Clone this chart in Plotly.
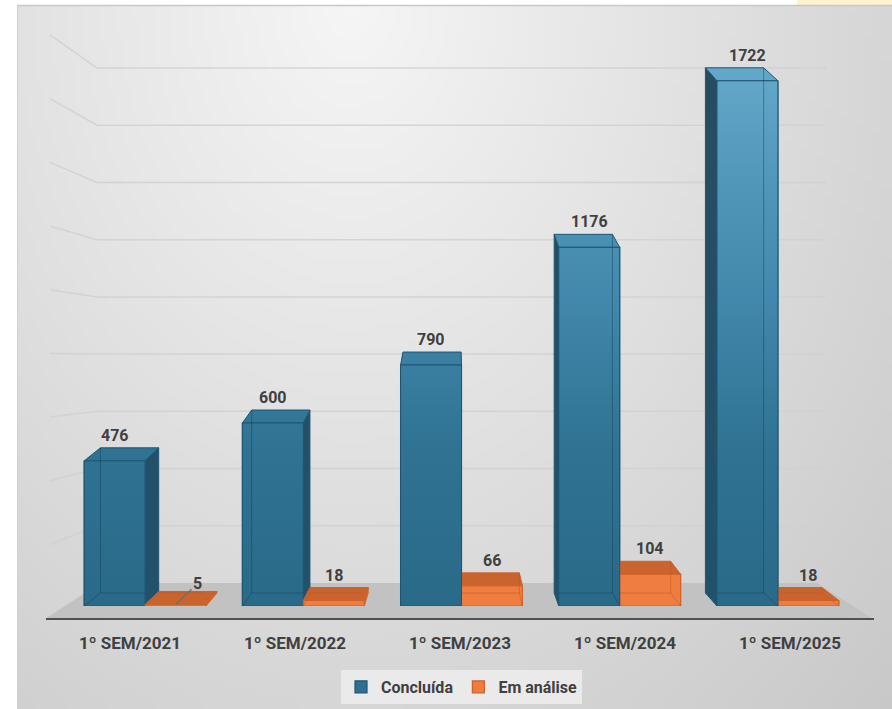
import base64
import struct
import zlib

import numpy as np
import plotly.graph_objects as go

# ---------------- data ----------------
categories = ["1º SEM/2021", "1º SEM/2022", "1º SEM/2023", "1º SEM/2024", "1º SEM/2025"]
concluida = [476, 600, 790, 1176, 1722]
em_analise = [5, 18, 66, 104, 18]
series_names = ["Concluída", "Em análise"]

# ---------------- geometry / style ----------------
W, H = 892, 709
ML, MR, MT, MB = 66, 35, 50, 103
PW = W - ML - MR
PH = H - MT - MB
YMAX = 1823
N = len(categories)
XR = (-0.5, N - 0.5)
BARGAP = 0.23
BW = (1 - BARGAP) / 2

TEXT = "#404040"
FONT = "Roboto"


def px2x(px):
    return (px - ML) / PW * (XR[1] - XR[0]) + XR[0]


def PX(px):
    return (px - ML) / PW


def PY(py):
    return (H - MB - py) / PH


DY = 13 * YMAX / PH          # depth of the bars in y units
VPX = px2x(454)              # horizontal vanishing point
S = 0.956                    # depth shrink

# ---------------- background gradient image ----------------
gw, gh = 112, 89
xs = (np.arange(gw) + 0.5) / gw * W
ys = (np.arange(gh) + 0.5) / gh * H
XX, YY = np.meshgrid(xs, ys)
r = np.sqrt(((XX - 350) / 540) ** 2 + (YY / 709) ** 2)
val = np.clip(246 - 32 * r, 0, 255).astype(np.uint8)
rgb = np.stack([val, val, val], axis=-1)
raw = b"".join(b"\x00" + rgb[i].tobytes() for i in range(gh))


def chunk(tag, data):
    c = struct.pack(">I", len(data)) + tag + data
    return c + struct.pack(">I", zlib.crc32(tag + data) & 0xFFFFFFFF)


png = (b"\x89PNG\r\n\x1a\n" + chunk(b"IHDR", struct.pack(">IIBBBBB", gw, gh, 8, 2, 0, 0, 0))
       + chunk(b"IDAT", zlib.compress(raw, 9)) + chunk(b"IEND", b""))
bg_uri = "data:image/png;base64," + base64.b64encode(png).decode()

# ---------------- 3D faces ----------------
idx = list(range(N))


def faces(x0, x1, v):
    b0 = VPX + S * (x0 - VPX)
    b1 = VPX + S * (x1 - VPX)
    front = [(x0, 0), (x1, 0), (x1, v), (x0, v)]
    top = [(x0, v), (x1, v), (b1, v + DY), (b0, v + DY)]
    side = None
    hidden = []
    if b1 > x1:
        side = [(x1, 0), (b1, DY), (b1, v + DY), (x1, v)]
        hidden = [[(x0, 0), (b0, DY), (b0, v + DY)], [(b0, DY), (x1, DY)]]
    elif b0 < x0:
        side = [(x0, 0), (b0, DY), (b0, v + DY), (x0, v)]
        hidden = [[(x1, 0), (b1, DY), (b1, v + DY)], [(x0, DY), (b1, DY)]]
    return front, top, side, hidden


def poly_xy(polys):
    xs_, ys_ = [], []
    for p in polys:
        for (a, b) in p + [p[0]]:
            xs_.append(a)
            ys_.append(b)
        xs_.append(None)
        ys_.append(None)
    return xs_, ys_


def line_xy(lines):
    xs_, ys_ = [], []
    for ln in lines:
        for (a, b) in ln:
            xs_.append(a)
            ys_.append(b)
        xs_.append(None)
        ys_.append(None)
    return xs_, ys_


blue_front_cs = [[0, "#2a6a89"], [0.28, "#2f7292"], [0.55, "#4288ac"],
                 [0.75, "#5096b9"], [0.95, "#62a7c8"], [1, "#66aacb"]]
blue_side_cs = [[0, "#21526b"], [1, "#284c60"]]
blue_top_cs = blue_front_cs
orange_front_cs = [[0, "#ef7d3f"], [1, "#ef7d3f"]]
orange_side_cs = [[0, "#dd6d33"], [1, "#dd6d33"]]
orange_top_cs = [[0, "#c9642e"], [1, "#c9642e"]]

series = [
    dict(vals=concluida, off=-BW, edge="#1d5673", hid="rgba(20,60,85,0.45)",
         cs={"side": blue_side_cs, "top": blue_top_cs, "front": blue_front_cs}),
    dict(vals=em_analise, off=0.0, edge="#cf6127", hid="rgba(190,85,35,0.5)",
         cs={"side": orange_side_cs, "top": orange_top_cs, "front": orange_front_cs}),
]

fig = go.Figure()

# legend-bearing bar traces (covered by the 3D faces)
bar_colors = [("#2e7090", "#1d5673"), ("#ef7d3f", "#cf6127")]
for name, s, (fc, lc) in zip(series_names, series, bar_colors):
    fig.add_trace(go.Bar(x=idx, y=s["vals"], name=name,
                         marker=dict(color=fc, line=dict(color=lc, width=1.2)),
                         hoverinfo="skip"))

# draw order: left of vanishing point -> blue then orange; right -> orange then blue
left_cats = [i for i in idx if i < VPX]
right_cats = [i for i in idx if i >= VPX]
order = [(0, left_cats), (1, right_cats), (1, left_cats), (0, right_cats)]

for si, cats in order:
    s = series[si]
    groups = {"side": [], "top": [], "front": []}
    hidden_lines = []
    for i in cats:
        x0 = i + s["off"]
        x1 = x0 + BW
        fr, tp, sd, hd = faces(x0, x1, s["vals"][i])
        groups["front"].append(fr)
        groups["top"].append(tp)
        if sd:
            groups["side"].append(sd)
        hidden_lines += hd
    for key in ["side", "top", "front"]:
        if not groups[key]:
            continue
        gx, gy = poly_xy(groups[key])
        fig.add_trace(go.Scatter(
            x=gx, y=gy, mode="lines", fill="toself",
            line=dict(color=s["edge"], width=1),
            fillgradient=dict(type="vertical", colorscale=s["cs"][key], start=0, stop=YMAX),
            showlegend=False, hoverinfo="skip"))
    if hidden_lines:
        hx, hy = line_xy(hidden_lines)
        fig.add_trace(go.Scatter(x=hx, y=hy, mode="lines",
                                 line=dict(color=s["hid"], width=1),
                                 showlegend=False, hoverinfo="skip"))

# ---------------- data labels ----------------
annotations = []
for s in series:
    for i, v in enumerate(s["vals"]):
        xc = i + s["off"] + BW / 2
        if v < 10:
            annotations.append(dict(
                x=xc, y=v, xref="x", yref="y", text=str(v), showarrow=True,
                ax=22, ay=-21, arrowhead=0, arrowwidth=1.3, arrowcolor="#6f6f6f",
                standoff=0, font=dict(family=FONT, size=16, color=TEXT, weight="bold")))
        else:
            annotations.append(dict(
                x=xc, y=v + DY, xref="x", yref="y", text=str(v), showarrow=False,
                yanchor="bottom", yshift=1,
                font=dict(family=FONT, size=16, color=TEXT, weight="bold")))

# ---------------- decorations (wall gridlines, floor, frame) ----------------
shapes = []
WALL0 = 583          # pixel of value 0 on the back wall
WALL_SCALE = 515 / 1800
for gv in range(200, 1801, 200):
    yb = WALL0 - gv * WALL_SCALE
    yf = -40.7 + 1.113 * yb
    shapes.append(dict(type="path", xref="paper", yref="paper", layer="below",
                       path=f"M {PX(50)},{PY(yf)} L {PX(97)},{PY(yb)} L {PX(826)},{PY(yb)}",
                       line=dict(color="rgba(208,208,208,0.85)", width=1.5)))

shapes.append(dict(type="path", xref="paper", yref="paper", layer="below",
                   path=(f"M {PX(100)},{PY(583)} L {PX(817)},{PY(583)} "
                         f"L {PX(873)},{PY(619)} L {PX(45)},{PY(619)} Z"),
                   fillcolor="#c2c2c2", line=dict(width=0)))
shapes.append(dict(type="line", xref="paper", yref="paper", layer="below",
                   x0=PX(46), x1=PX(874), y0=PY(619), y1=PY(619),
                   line=dict(color="#505050", width=2)))
# white page margin + frame line + yellow patch
shapes.append(dict(type="rect", xref="paper", yref="paper", layer="below",
                   x0=PX(0), x1=PX(17), y0=PY(H), y1=PY(0),
                   fillcolor="white", line=dict(width=0)))
shapes.append(dict(type="rect", xref="paper", yref="paper", layer="below",
                   x0=PX(0), x1=PX(W), y0=PY(5), y1=PY(0),
                   fillcolor="white", line=dict(width=0)))
shapes.append(dict(type="rect", xref="paper", yref="paper", layer="below",
                   x0=PX(797), x1=PX(W), y0=PY(5), y1=PY(0),
                   fillcolor="#fff2cc", line=dict(width=0)))
shapes.append(dict(type="line", xref="paper", yref="paper", layer="below",
                   x0=PX(17), x1=PX(W), y0=PY(5.5), y1=PY(5.5),
                   line=dict(color="#c8c8c8", width=1.5)))
shapes.append(dict(type="line", xref="paper", yref="paper", layer="below",
                   x0=PX(17.5), x1=PX(17.5), y0=PY(H), y1=PY(5),
                   line=dict(color="#d0d0d0", width=1)))

label_pos = [px2x(130 + 165 * i) for i in idx]

fig.update_layout(
    width=W, height=H,
    margin=dict(l=ML, r=MR, t=MT, b=MB, autoexpand=False),
    paper_bgcolor="white",
    plot_bgcolor="rgba(0,0,0,0)",
    barmode="group", bargap=BARGAP, bargroupgap=0,
    font=dict(family=FONT, color=TEXT),
    images=[dict(source=bg_uri, xref="paper", yref="paper",
                 x=PX(0), y=PY(0), sizex=W / PW, sizey=H / PH,
                 xanchor="left", yanchor="top", sizing="stretch", layer="below")],
    xaxis=dict(range=list(XR), tickvals=label_pos, ticktext=categories,
               ticks="outside", ticklen=22, tickcolor="rgba(0,0,0,0)",
               showgrid=False, zeroline=False, showline=False, fixedrange=True,
               automargin=False,
               tickfont=dict(family=FONT, size=17, color=TEXT, weight="bold")),
    yaxis=dict(range=[0, YMAX], showticklabels=False, showgrid=False,
               zeroline=False, showline=False, ticks="", automargin=False),
    legend=dict(orientation="h", x=0.5, xanchor="center", y=PY(670), yanchor="top",
                bgcolor="rgba(236,236,236,0.9)", borderwidth=0, itemwidth=30,
                font=dict(family=FONT, size=16, color=TEXT, weight="bold"),
                traceorder="normal"),
    annotations=annotations,
    shapes=shapes,
)

fig.write_html("out.html")
